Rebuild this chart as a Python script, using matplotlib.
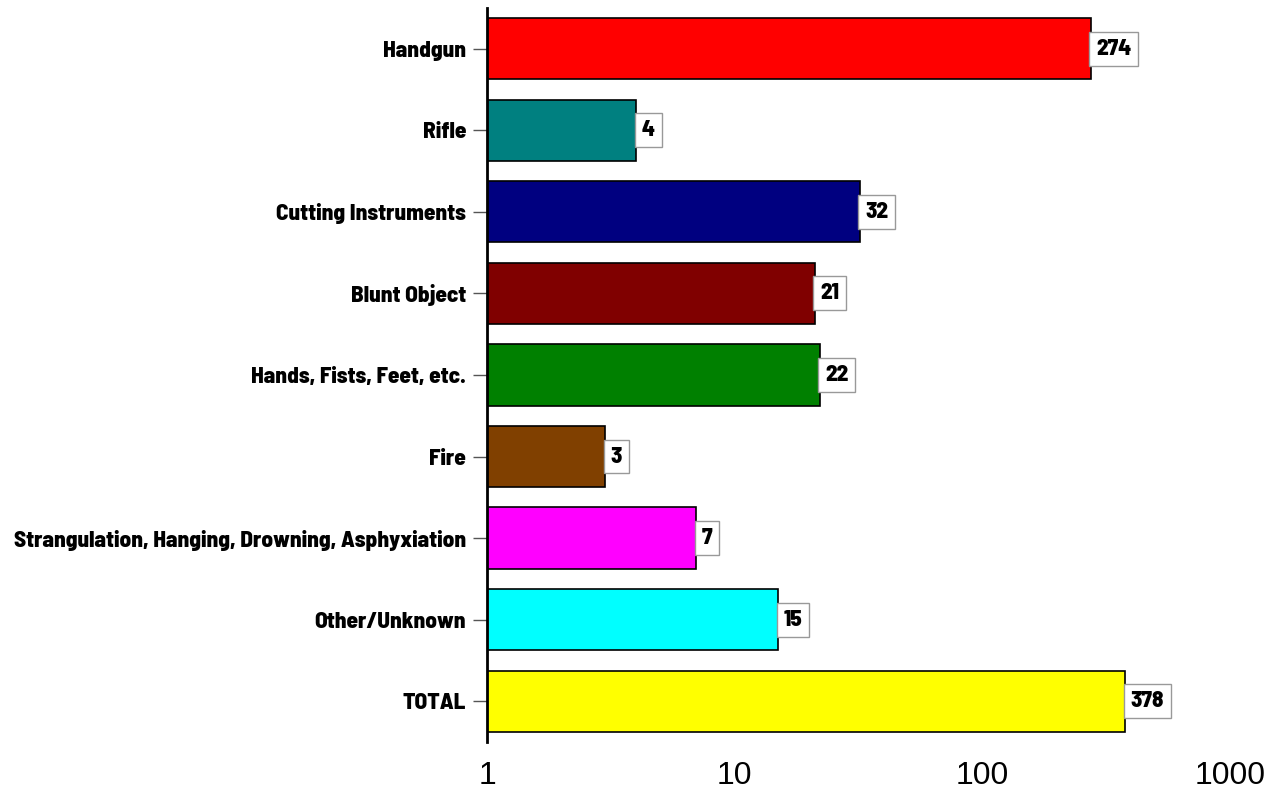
import matplotlib
matplotlib.use("Agg")
import matplotlib.pyplot as plt

categories = ["Handgun", "Rifle", "Cutting Instruments", "Blunt Object",
              "Hands, Fists, Feet, etc.", "Fire",
              "Strangulation, Hanging, Drowning, Asphyxiation",
              "Other/Unknown", "TOTAL"]
values = [274, 4, 32, 21, 22, 3, 7, 15, 378]
colors = ["#FF0000", "#008080", "#000080", "#800000", "#008000",
          "#804000", "#FF00FF", "#00FFFF", "#FFFF00"]
xticks = [1, 10, 100, 1000]

NARROW = ["Barlow Semi Condensed", "DejaVu Sans"]

fig = plt.figure(figsize=(12.79, 7.92), dpi=100)
ax = fig.add_axes([0.3808, 0.0631, 0.5809, 0.927])

ypos = list(range(len(categories)))
ax.barh(ypos, [v - 1 for v in values], left=1, height=0.75,
        color=colors, edgecolor="black", linewidth=1.2)

ax.set_xscale("log")
ax.set_xlim(1, 1000)
ax.set_ylim(8.5, -0.5)

for y, v in zip(ypos, values):
    ax.annotate(str(v), xy=(v, y), xytext=(4, 0), textcoords="offset points",
                ha="left", va="center", fontsize=16.5, fontweight=800,
                family=NARROW,
                bbox=dict(boxstyle="square,pad=0.3", fc="white", ec="#999999", lw=1))

ax.set_yticks(ypos)
ax.set_yticklabels(categories, fontsize=16.7, fontweight=800, family=NARROW)
ax.tick_params(axis="y", length=10, width=1, color="#555555", pad=5)

ax.set_xticks(xticks)
ax.set_xticklabels([str(t) for t in xticks], fontsize=23, family="Liberation Sans")
ax.xaxis.set_minor_locator(matplotlib.ticker.NullLocator())
ax.tick_params(axis="x", length=0, pad=14)

for s in ["top", "right", "bottom"]:
    ax.spines[s].set_visible(False)
ax.spines["left"].set_linewidth(2)

fig.savefig("out.png", dpi=100)
